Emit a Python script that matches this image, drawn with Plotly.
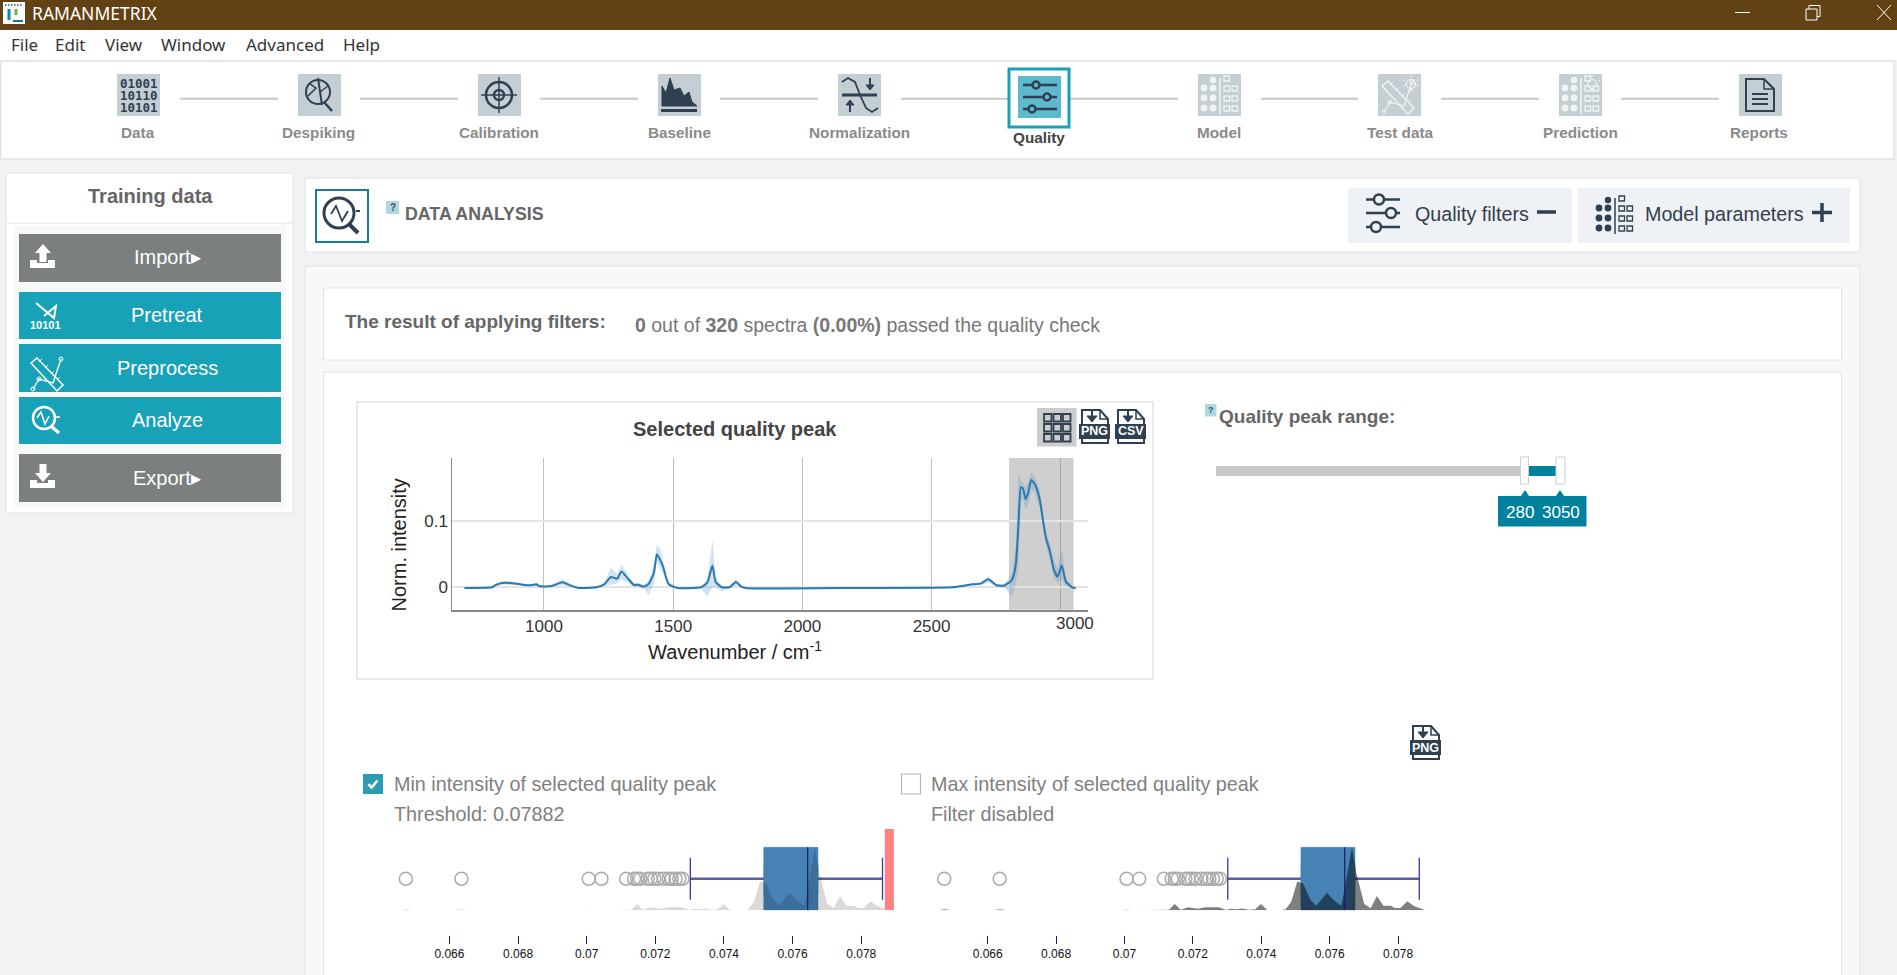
import plotly.graph_objects as go

W, H = 1897, 975
FONT = "Liberation Sans"
UI_FONT = "Noto Sans"
DARK = "#2f4052"
TEAL = "#17a2b8"
ICON_BG = "#c5ced3"

# =====================
# Data
# =====================

spec_x = [692, 798, 810, 838, 868, 908, 949, 970, 984, 1030, 1071, 1101, 1132, 1202, 1233, 1259, 1283, 1300, 1324, 1348,
          1364, 1385, 1405, 1425, 1437, 1450, 1461, 1482, 1516, 1607, 1632, 1652, 1664, 1688, 1718, 1743, 1765, 1789,
          2235, 2579, 2660, 2690, 2720, 2751, 2781, 2811, 2826, 2836, 2846, 2854, 2864, 2874, 2886, 2902, 2919, 2933,
          2943, 2957, 2974, 2988, 3004, 3020, 3044, 3058]
spec_mean = [-.001, 0, .003, .0065, .0065, .0045, .003, .0045, .0015, .002, .0075, .003, -.001, 0, .0045, .0155, .013,
             .024, .0135, .0035, .004, .001, .005, .021, .05, .041, .031, .005, -.001, 0, .007, .033, .0085, 0, 0, .008,
             .0005, -.0015, -.001, 0, .0045, .0055, .012, .003, .0025, .011, .034, .0915, .151, .149, .133, .142, .162,
             .154, .132, .0965, .074, .056, .026, .016, .033, .0085, 0, -.0015]
spec_upper = [0, .001, .005, .009, .009, .006, .004, .007, .003, .004, .012, .005, 0, .001, .007, .03, .02, .034, .02,
              .006, .007, .003, .01, .035, .064, .058, .04, .008, 0, .001, .012, .071, .015, .002, .002, .013, .002, 0,
              0, .001, .006, .008, .017, .005, .005, .02, .06, .172, .16, .158, .15, .16, .174, .165, .145, .11, .085,
              .068, .04, .028, .059, .014, .002, 0]
spec_lower = [-.002, -.001, .001, .004, .004, .003, .002, .002, 0, .001, .003, .001, -.002, -.001, .002, .004, .006,
              .012, .007, .001, .001, -.001, -.012, .005, .038, .028, .02, .002, -.002, -.002, -.014, 0, 0, -.006,
              -.002, .003, -.001, -.002, -.002, -.001, .003, .003, .007, .001, 0, -.014, .005, .03, .13, .135, .118,
              .125, .148, .14, .12, .085, .062, .045, .015, .006, .012, .002, -.002, -.002]
spec_ticks = [1000, 1500, 2000, 2500]
spec_tick_text = ["1000", "1500", "2000", "2500"]
spec_last_tick = 3000
peak_range = [2800, 3050]

box_q1, box_median, box_q3 = 0.07516, 0.07644, 0.07674
whisker_low, whisker_high = 0.07302, 0.07862
threshold = 0.07882
outliers = [.06473, .06635, .07006, .07043, .07115, .07138, .07147, .07156, .07178, .07187, .07197, .07208, .07225,
            .07239, .07248, .07259, .0727, .07279]
density_x = [.06455, .06475, .06496, .06615, .06635, .06656, .06988, .07007, .07024, .07029, .07046, .07063, .07096,
             .0713, .07147, .07164, .07175, .07186, .07214, .07236, .07276, .07298, .07309, .07326, .07343, .07365,
             .07382, .07399, .07418, .07455, .07471, .07488, .07505, .07522, .07544, .07561, .07592, .07611, .07634,
             .07645, .07665, .07678, .07701, .0772, .07738, .07757, .07779, .0779, .07807, .07827, .07846, .0788]
density_y = [0, .016, 0, 0, .016, 0, 0, .01, 0, 0, .01, 0, 0, .01, .10, .01, .03, .05, .026, .048, .05, .005, .026, .016,
             .03, .01, .016, .10, 0, 0, .016, .138, .455, .43, .164, .074, .28, .164, .074, .376, 1, .587, .10, .032,
             .228, .074, .074, .037, .037, .143, .069, 0]
box_ticks = [.066, .068, .07, .072, .074, .076, .078]
box_tick_text = ["0.066", "0.068", "0.07", "0.072", "0.074", "0.076", "0.078"]

steps = ["Data", "Despiking", "Calibration", "Baseline", "Normalization", "Quality", "Model", "Test data", "Prediction",
         "Reports"]
menu_items = ["File", "Edit", "View", "Window", "Advanced", "Help"]
menu_x = [10, 54, 104, 160, 245, 342]

shapes, notes = [], []

# =====================
# Pixel helpers
# =====================

def _px(x):
    return x / W


def _py(y):
    return 1 - y / H


def rect(x0, y0, x1, y1, fill=None, line=None, w=1):
    shapes.append(dict(type="rect", xref="paper", yref="paper", x0=_px(x0), x1=_px(x1), y0=_py(y0), y1=_py(y1),
                       fillcolor=fill or "rgba(0,0,0,0)", line=dict(color=line or "rgba(0,0,0,0)", width=w if line else 0),
                       layer="below"))


def seg(x0, y0, x1, y1, color, w=1.5):
    shapes.append(dict(type="line", xref="paper", yref="paper", x0=_px(x0), x1=_px(x1), y0=_py(y0), y1=_py(y1),
                       line=dict(color=color, width=w), layer="below"))


def circ(cx, cy, r, fill=None, line=None, w=1.5):
    shapes.append(dict(type="circle", xref="paper", yref="paper", x0=_px(cx - r), x1=_px(cx + r), y0=_py(cy - r),
                       y1=_py(cy + r), fillcolor=fill or "rgba(0,0,0,0)",
                       line=dict(color=line or "rgba(0,0,0,0)", width=w if line else 0), layer="below"))


def poly(pts, ox=0, oy=0, fill=None, color=None, w=1.5, close=False):
    d = "M" + " L".join(f"{_px(ox + a):.5f},{_py(oy + b):.5f}" for a, b in pts) + (" Z" if close else "")
    shapes.append(dict(type="path", xref="paper", yref="paper", path=d, fillcolor=fill or "rgba(0,0,0,0)",
                       line=dict(color=color or "rgba(0,0,0,0)", width=w if color else 0), layer="below"))


def label(x, y, text, size, color="#666666", anchor="left", family=FONT, angle=0):
    notes.append(dict(xref="paper", yref="paper", x=_px(x), y=_py(y), text=text, showarrow=False, xanchor=anchor,
                      yanchor="middle", textangle=angle, font=dict(family=family, size=size, color=color), borderpad=0))


# =====================
# Icons
# =====================

def sliders_icon(x0, x1, ys, knobs, color, r, w, knob_fill):
    for y, k in zip(ys, knobs):
        seg(x0, y, x1, y, color, w)
        circ(k, y, r, knob_fill, color, w)


def dots_icon(ox, oy, color):
    seg(ox + 20, oy, ox + 20, oy + 36, color, 1.5)
    for row in range(3):
        for dx in (0, 9):
            circ(ox + 4 + dx, oy + 10 + row * 10, 3.4, color)
        for dx in (24, 32):
            rect(ox + dx, oy + 8 + row * 10, ox + dx + 5.5, oy + 13 + row * 10, None, color, 1.3)
    circ(ox + 13, oy + 2, 3.2, color)
    rect(ox + 24, oy - 2, ox + 29.5, oy + 3, None, color, 1.3)


def bulb(cx, cy, color):
    circ(cx, cy, 4.5, None, color, 1.2)
    seg(cx - 2, cy + 6, cx + 2, cy + 6, color, 1.5)
    for a, b, c, d in [(-8, -4, -6, -3), (8, -4, 6, -3), (0, -9, 0, -7), (-7, 2, -5, 1), (7, 2, 5, 1)]:
        seg(cx + a, cy + b, cx + c, cy + d, color, 1)


def cross_tools(ox, oy, color, s=1.0):
    # ruler and node line crossing
    poly([(2, 10), (8, 5), (34, 32), (28, 38)], ox, oy, None, color, 1.5 * s, True)
    for t in (10, 16, 22, 28):
        seg(ox + t, oy + t - 1, ox + t + 3, oy + t - 4, color, 1)
    poly([(4, 36), (10, 26), (24, 30), (32, 6)], ox, oy, None, color, 1.3 * s)
    for p in [(4, 36), (10, 26), (32, 6)]:
        circ(ox + p[0], oy + p[1], 2, None, color, 1)


def file_icon(x0, y0, text):
    w, h = 30, 33
    poly([(2, 0), (20, 0), (28, 9), (28, 33), (2, 33)], x0, y0, None, DARK, 2, True)
    poly([(20, 0), (20, 9), (28, 9)], x0, y0, None, DARK, 1.5)
    seg(x0 + 12, y0, x0 + 12, y0 + 10, DARK, 2)
    poly([(7, 6), (17, 6), (12, 12)], x0, y0, DARK, DARK, 1, True)
    rect(x0 - 1, y0 + 14, x0 + w, y0 + h - 4, DARK)
    label(x0 + w / 2 - 0.5, y0 + 21.5, f"<b>{text}</b>", 12.5, "white", "center")


def white_box_check(x0, y0, x1, y1):
    poly([(x0 + 5.5, y0 + 10), (x0 + 8.5, y0 + 13.5), (x0 + 14.5, y0 + 6.5)], 0, 0, None, "white", 2.5)


# =====================
# Page chrome
# =====================

rect(0, 0, W, H, "#f1f2f4")
rect(0, 0, W, 30, "#624214")
rect(3, 2, 25, 24, "white")
for dx in (5, 8, 11, 14, 17, 20):
    seg(dx, 5, dx + 1.5, 5, "#2d4a66", 1.5)
seg(9, 9, 9, 20, "#0b8a9e", 3)
seg(16, 9, 16, 15, "#6cb33f", 3)
seg(13, 21, 23, 21, "#1a6f8a", 2)
label(31, 13, "RAMANMETRIX", 17.5, "white", family=UI_FONT)
seg(1735, 12.5, 1750, 12.5, "white", 1)
rect(1806, 9, 1817, 20, None, "white", 1)
poly([(1809, 9), (1809, 5.5), (1820, 5.5), (1820, 16.5), (1817, 16.5)], 0, 0, None, "white", 1)
seg(1877, 5, 1891, 20, "white", 1)
seg(1891, 5, 1877, 20, "white", 1)

rect(0, 30, W, 60, "white")
for name, x in zip(menu_items, menu_x):
    label(x, 44, name, 17, "#333333", family=UI_FONT)

rect(0.5, 61, 1894, 159, "white", "#e2e2e2", 1.5)

icon_x = [117, 298, 478, 658, 838, 1018, 1198, 1378, 1559, 1739]
label_x = [138, 318, 499, 679, 859, 1039, 1219, 1400, 1580, 1759]
link_x = [(180, 278), (360, 458), (540, 638), (720, 818), (901, 1009), (1069, 1178), (1261, 1358), (1441, 1539),
          (1621, 1719)]
for a, b in link_x:
    seg(a, 98.7, b, 98.7, "#c8c8c8", 2)

rect(1009, 69, 1069, 127, "white", TEAL, 3)
for i, (name, x, lx) in enumerate(zip(steps, icon_x, label_x)):
    quality = name == "Quality"
    top = 76 if quality else 74
    rect(x, top, x + 43, top + 42, "#5fb9cc" if quality else ICON_BG)
    label(lx, 137.5 if quality else 133, f"<b>{name}</b>", 15.3, "#444444" if quality else "#8a8a8a", "center")

# step glyphs
for i, bits in enumerate(["01001", "10110", "10101"]):
    label(138.5, 83 + i * 12.3, f"<b>{bits}</b>", 12.5, DARK, "center", "DejaVu Sans Mono")

circ(318, 92, 12, None, DARK, 2)
seg(318, 78, 322, 105, DARK, 2)
poly([(308, 96), (316, 88), (310, 84)], 0, 0, None, DARK, 1.5)
poly([(320, 92), (328, 86)], 0, 0, None, DARK, 1.5)
seg(324, 102, 332, 111, DARK, 2.5)

circ(499, 95, 13, None, DARK, 2.5)
circ(499, 95, 5, None, DARK, 2.5)
seg(499, 77, 499, 113, DARK, 1.5)
seg(481, 95, 517, 95, DARK, 1.5)

poly([(662, 106), (662, 86), (666, 93), (670, 78), (674, 90), (680, 88), (684, 96), (689, 92), (692, 102), (697, 106)],
     0, 0, DARK, DARK, 1, True)
rect(661, 109, 697, 112, DARK)

poly([(842, 82), (848, 78), (855, 82), (860, 95), (866, 108), (872, 112), (878, 108)], 0, 0, None, DARK, 1.8)
seg(842, 95, 877, 95, DARK, 3)
seg(870, 78, 870, 86, DARK, 2)
poly([(866, 85), (874, 85), (870, 90)], 0, 0, DARK, DARK, 1, True)
seg(850, 104, 850, 112, DARK, 2)
poly([(846, 105), (854, 105), (850, 100)], 0, 0, DARK, DARK, 1, True)

sliders_icon(1023, 1057, [85, 97, 109], [1036, 1047, 1032], DARK, 3.5, 2.5, "#5fb9cc")
dots_icon(1200, 78, "#f0f3f4")
cross_tools(1380, 76, "#f0f3f4")
bulb(1411, 84, "#f0f3f4")
dots_icon(1561, 78, "#f0f3f4")
bulb(1592, 84, "#f0f3f4")
poly([(1746, 79), (1764, 79), (1774, 89), (1774, 111), (1746, 111)], 0, 0, None, DARK, 2, True)
poly([(1764, 79), (1764, 89), (1774, 89)], 0, 0, None, DARK, 1.5)
for y in (94, 99, 104):
    seg(1752, y, 1768, y, DARK, 2)

# left panel
rect(6, 173, 293, 513, "white", "#e2e2e2", 1)
seg(7, 223, 293, 223, "#e2e2e2", 1)
rect(14, 225, 286, 508, "#f7f8fa")
label(150, 196, "<b>Training data</b>", 20, "#666666", "center")
buttons = [("Import", 234, 282, "#7b7f80", "▸"), ("Pretreat", 292, 339, TEAL, ""), ("Preprocess", 344, 392, TEAL, ""),
           ("Analyze", 397, 444, TEAL, ""), ("Export", 454, 502, "#7b7f80", "▸")]
for name, y0, y1, col, arrow in buttons:
    rect(19, y0, 281, y1, col)
    label(167, (y0 + y1) / 2 - 0.5, name + arrow, 20, "white", "center")

# upload / download tray glyphs
for oy, up in [(244, True), (464, False)]:
    poly([(30, oy + 16), (37, oy + 16), (37, oy + 19), (48, oy + 19), (48, oy + 16), (55, oy + 16), (55, oy + 24),
          (30, oy + 24)], 0, 0, "white", None, 0, True)
    if up:
        poly([(35, oy + 9), (43, oy), (51, oy + 9), (46.5, oy + 9), (46.5, oy + 18), (39.5, oy + 18), (39.5, oy + 9)], 0,
             0, "white", None, 0, True)
    else:
        poly([(35, oy + 9), (43, oy + 18), (51, oy + 9), (46.5, oy + 9), (46.5, oy), (39.5, oy), (39.5, oy + 9)], 0, 0,
             "white", None, 0, True)
poly([(36, 303), (54, 318), (56, 306), (44, 316)], 0, 0, None, "white", 2)
label(45, 325, "<b>10101</b>", 11, "white", "center")
cross_tools(29, 353, "white")
circ(44, 418, 11, None, "white", 2.5)
poly([(37, 418), (41, 412), (45, 424), (49, 416)], 0, 0, None, "white", 1.5)
seg(52, 427, 59, 433, "white", 3.5)
seg(56, 417, 60, 417, "white", 1.5)

# data analysis header
rect(305, 178, 1860, 252, "white", "#e2e2e2", 1)
rect(316, 190, 368, 242, "white", "#1a7f96", 2)
circ(339, 213, 15, None, DARK, 3)
poly([(331, 214), (336, 206), (342, 221), (348, 211)], 0, 0, None, DARK, 1.8)
seg(349, 224, 358, 233, DARK, 4)
seg(356, 211, 360, 211, DARK, 2)
rect(386, 201, 399, 214, "#aed9e2")
label(392.5, 207, "<b>?</b>", 10, "#35505c", "center")
label(403.5, 214, "<b>DATA ANALYSIS</b>", 17.8, "#666666")

rect(1348, 188, 1572, 243, "#eef1f5")
rect(1578, 188, 1850, 243, "#eef1f5")
sliders_icon(1366, 1400, [199.5, 213, 227], [1379, 1391, 1376], DARK, 5, 2.5, "#eef1f5")
label(1413.5, 214, "Quality filters", 19.7, "#333e4c")
seg(1537, 212, 1556, 212, DARK, 3.5)
dots_icon(1595, 198, DARK)
label(1643.5, 214, "Model parameters", 19.7, "#333e4c")
seg(1812, 212.5, 1832, 212.5, DARK, 3.5)
seg(1822, 203, 1822, 222, DARK, 3.5)

# main panel
rect(305, 266, 1860, H + 5, "#f7f8fa", "#e2e2e2", 1)
rect(323.5, 288, 1841.5, 360, "white", "#e2e2e2", 1)
rect(323.5, 372, 1841.5, H + 5, "white", "#e2e2e2", 1)
label(343.5, 321, "<b>The result of applying filters:</b>", 19, "#666666")
label(633.5, 325, "<b>0</b> out of <b>320</b> spectra <b>(0.00%)</b> passed the quality check", 19.5, "#777777")

# spectrum card
rect(357, 402, 1153, 679, "white", "#e2e2e2", 1.5)
rect(1037, 408, 1076.5, 446.5, "#cccccc")
for a in (1044, 1053.5, 1063):
    for b in (414, 424, 434):
        rect(a, b, a + 7.5, b + 7.5, None, DARK, 1.8)
file_icon(1080, 410, "PNG")
file_icon(1116, 410, "CSV")
label(735, 429, "<b>Selected quality peak</b>", 20, "#444444", "center")
label(735, 650, "Wavenumber / cm<sup>-1</sup>", 20, "#222222", "center")
label(398, 545.5, "Norm. intensity", 20, "#222222", "center", angle=-90)
label(1075, 623, str(spec_last_tick), 17, "#333333", "center")

# quality range slider
rect(1205, 404, 1216.5, 416.5, "#aed9e2")
label(1211, 410, "<b>?</b>", 9, "#35505c", "center")
label(1217.5, 416, "<b>Quality peak range:</b>", 19, "#666666")
rect(1216, 466, 1523, 476, "#c8c8c8")
rect(1527, 466, 1557, 476, "#00829e")
rect(1520.5, 457, 1528.5, 484, "white", "#cfcfcf", 1)
rect(1556, 457, 1565, 484, "white", "#cfcfcf", 1)
rect(1498, 496, 1586.5, 526.5, "#00829e")
poly([(1521, 496), (1525, 490), (1529, 496)], 0, 0, "#00829e", None, 0, True)
poly([(1556, 496), (1560, 490), (1564, 496)], 0, 0, "#00829e", None, 0, True)
label(1520, 512, "280", 17, "white", "center")
label(1561, 512, "3050", 17, "white", "center")

# filter headers
file_icon(1411, 726, "PNG")
rect(363, 774, 383, 794, "#2b9cb3")
white_box_check(363, 774, 383, 794)
label(392.5, 784, "Min intensity of selected quality peak", 19.8, "#808080")
label(392.5, 813.5, "Threshold: 0.07882", 19.8, "#808080")
rect(901.5, 774, 920.5, 794, "white", "#b5b5b5", 1.2)
label(930, 784, "Max intensity of selected quality peak", 19.8, "#808080")
label(930, 813.5, "Filter disabled", 19.8, "#808080")

# =====================
# Traces
# =====================

fig = go.Figure()

fig.add_trace(go.Scatter(x=spec_x + spec_x[::-1], y=spec_upper + spec_lower[::-1], fill="toself", mode="none",
                         fillcolor="rgba(70,140,200,0.24)", hoverinfo="skip", showlegend=False))
fig.add_trace(go.Scatter(x=spec_x, y=spec_mean, mode="lines", line=dict(color="#2a7ab0", width=2, shape="spline",
                                                                        smoothing=0.5), showlegend=False))

PANEL_TOP = 1.29


def add_panel(xa, ya, alpha, red=None):
    fig.add_trace(go.Box(q1=[box_q1], median=[box_median], q3=[box_q3], lowerfence=[box_q1], upperfence=[box_q3],
                         y=[0.5], orientation="h", width=1, boxpoints=False, fillcolor="#4682b4",
                         line=dict(color="#4682b4", width=0.5), xaxis=xa, yaxis=ya, showlegend=False))
    fig.add_trace(go.Scatter(x=[whisker_low, box_q1, None, box_q3, whisker_high], y=[0.5, 0.5, None, 0.5, 0.5],
                             mode="lines", line=dict(color="#5a5ca6", width=2.5), xaxis=xa, yaxis=ya, showlegend=False))
    fig.add_trace(go.Scatter(x=[whisker_low, whisker_high], y=[0.5, 0.5], mode="markers", xaxis=xa, yaxis=ya,
                             marker=dict(symbol="line-ns", size=30, line=dict(color="#3a3a96", width=1.3)),
                             showlegend=False))
    fig.add_trace(go.Scatter(x=outliers, y=[0.5] * len(outliers), mode="markers", xaxis=xa, yaxis=ya,
                             marker=dict(symbol="circle-open", size=13, color="#aaaaaa", line=dict(width=1.5)),
                             showlegend=False))
    fig.add_trace(go.Scatter(x=density_x, y=density_y, mode="lines", fill="tozeroy", line=dict(width=0),
                             fillcolor=f"rgba(0,0,0,{alpha})", xaxis=xa, yaxis=ya, showlegend=False))
    fig.add_trace(go.Scatter(x=[box_median], y=[0.5], mode="markers", xaxis=xa, yaxis=ya,
                             marker=dict(symbol="line-ns", size=45, line=dict(color="#191970", width=1.2)),
                             showlegend=False))
    if red is not None:
        fig.add_trace(go.Scatter(x=[red, red], y=[0, PANEL_TOP], mode="lines", line=dict(color="#ff8080", width=9),
                                 xaxis=xa, yaxis=ya, showlegend=False))


add_panel("x2", "y2", 0.15, threshold)
add_panel("x3", "y3", 0.5)

panel_axis = dict(showgrid=False, zeroline=False, showline=False, ticks="outside", ticklen=8, tickwidth=1,
                  tickcolor="#191970", tickvals=box_ticks, ticktext=box_tick_text, anchor="free",
                  position=_py(935), tickfont=dict(family=FONT, size=12, color="#111111"))
panel_y = dict(domain=[_py(910.3), _py(829)], range=[0, PANEL_TOP], visible=False)

shapes.append(dict(type="rect", xref="x", yref="y domain", x0=peak_range[0], x1=peak_range[1], y0=0, y1=1,
                   fillcolor="rgba(130,130,130,0.38)", line=dict(width=0), layer="below"))

fig.update_layout(
    width=W,
    height=H,
    margin=dict(l=0, r=0, t=0, b=0, pad=0),
    paper_bgcolor="#f1f2f4",
    plot_bgcolor="rgba(0,0,0,0)",
    font=dict(family=FONT),
    showlegend=False,
    shapes=shapes,
    annotations=notes,
    xaxis=dict(domain=[_px(452.4), _px(1088)], range=[645.5, 3105.6], tickvals=spec_ticks, ticktext=spec_tick_text,
               showgrid=True, gridcolor="#c0c0c0", gridwidth=1, zeroline=False, showline=True, linecolor="#888888",
               linewidth=2, ticks="", tickfont=dict(family=FONT, size=17, color="#333333"),
               minor=dict(tickvals=[spec_last_tick], showgrid=True, gridcolor="#a8a8a8", gridwidth=1, ticks="")),
    yaxis=dict(domain=[_py(609.7), _py(458)], range=[-0.0338, 0.195], tickvals=[0, 0.1], ticktext=["0", "0.1"],
               showgrid=True, gridcolor="#e4e4e4", gridwidth=2, zeroline=False, showline=True, linecolor="#888888",
               linewidth=1, ticks="", tickfont=dict(family=FONT, size=17, color="#333333")),
    xaxis2=dict(domain=[_px(380), _px(900)], range=[0.063977, 0.07913], **panel_axis),
    yaxis2=dict(anchor="x2", **panel_y),
    xaxis3=dict(domain=[_px(930), _px(1450)], range=[0.064313, 0.079518], **panel_axis),
    yaxis3=dict(anchor="x3", **panel_y),
)

fig.write_html(
    "out.html",
    config=dict(displayModeBar=False),
    post_script="document.body.style.margin='0';document.body.style.overflow='hidden';",
)
